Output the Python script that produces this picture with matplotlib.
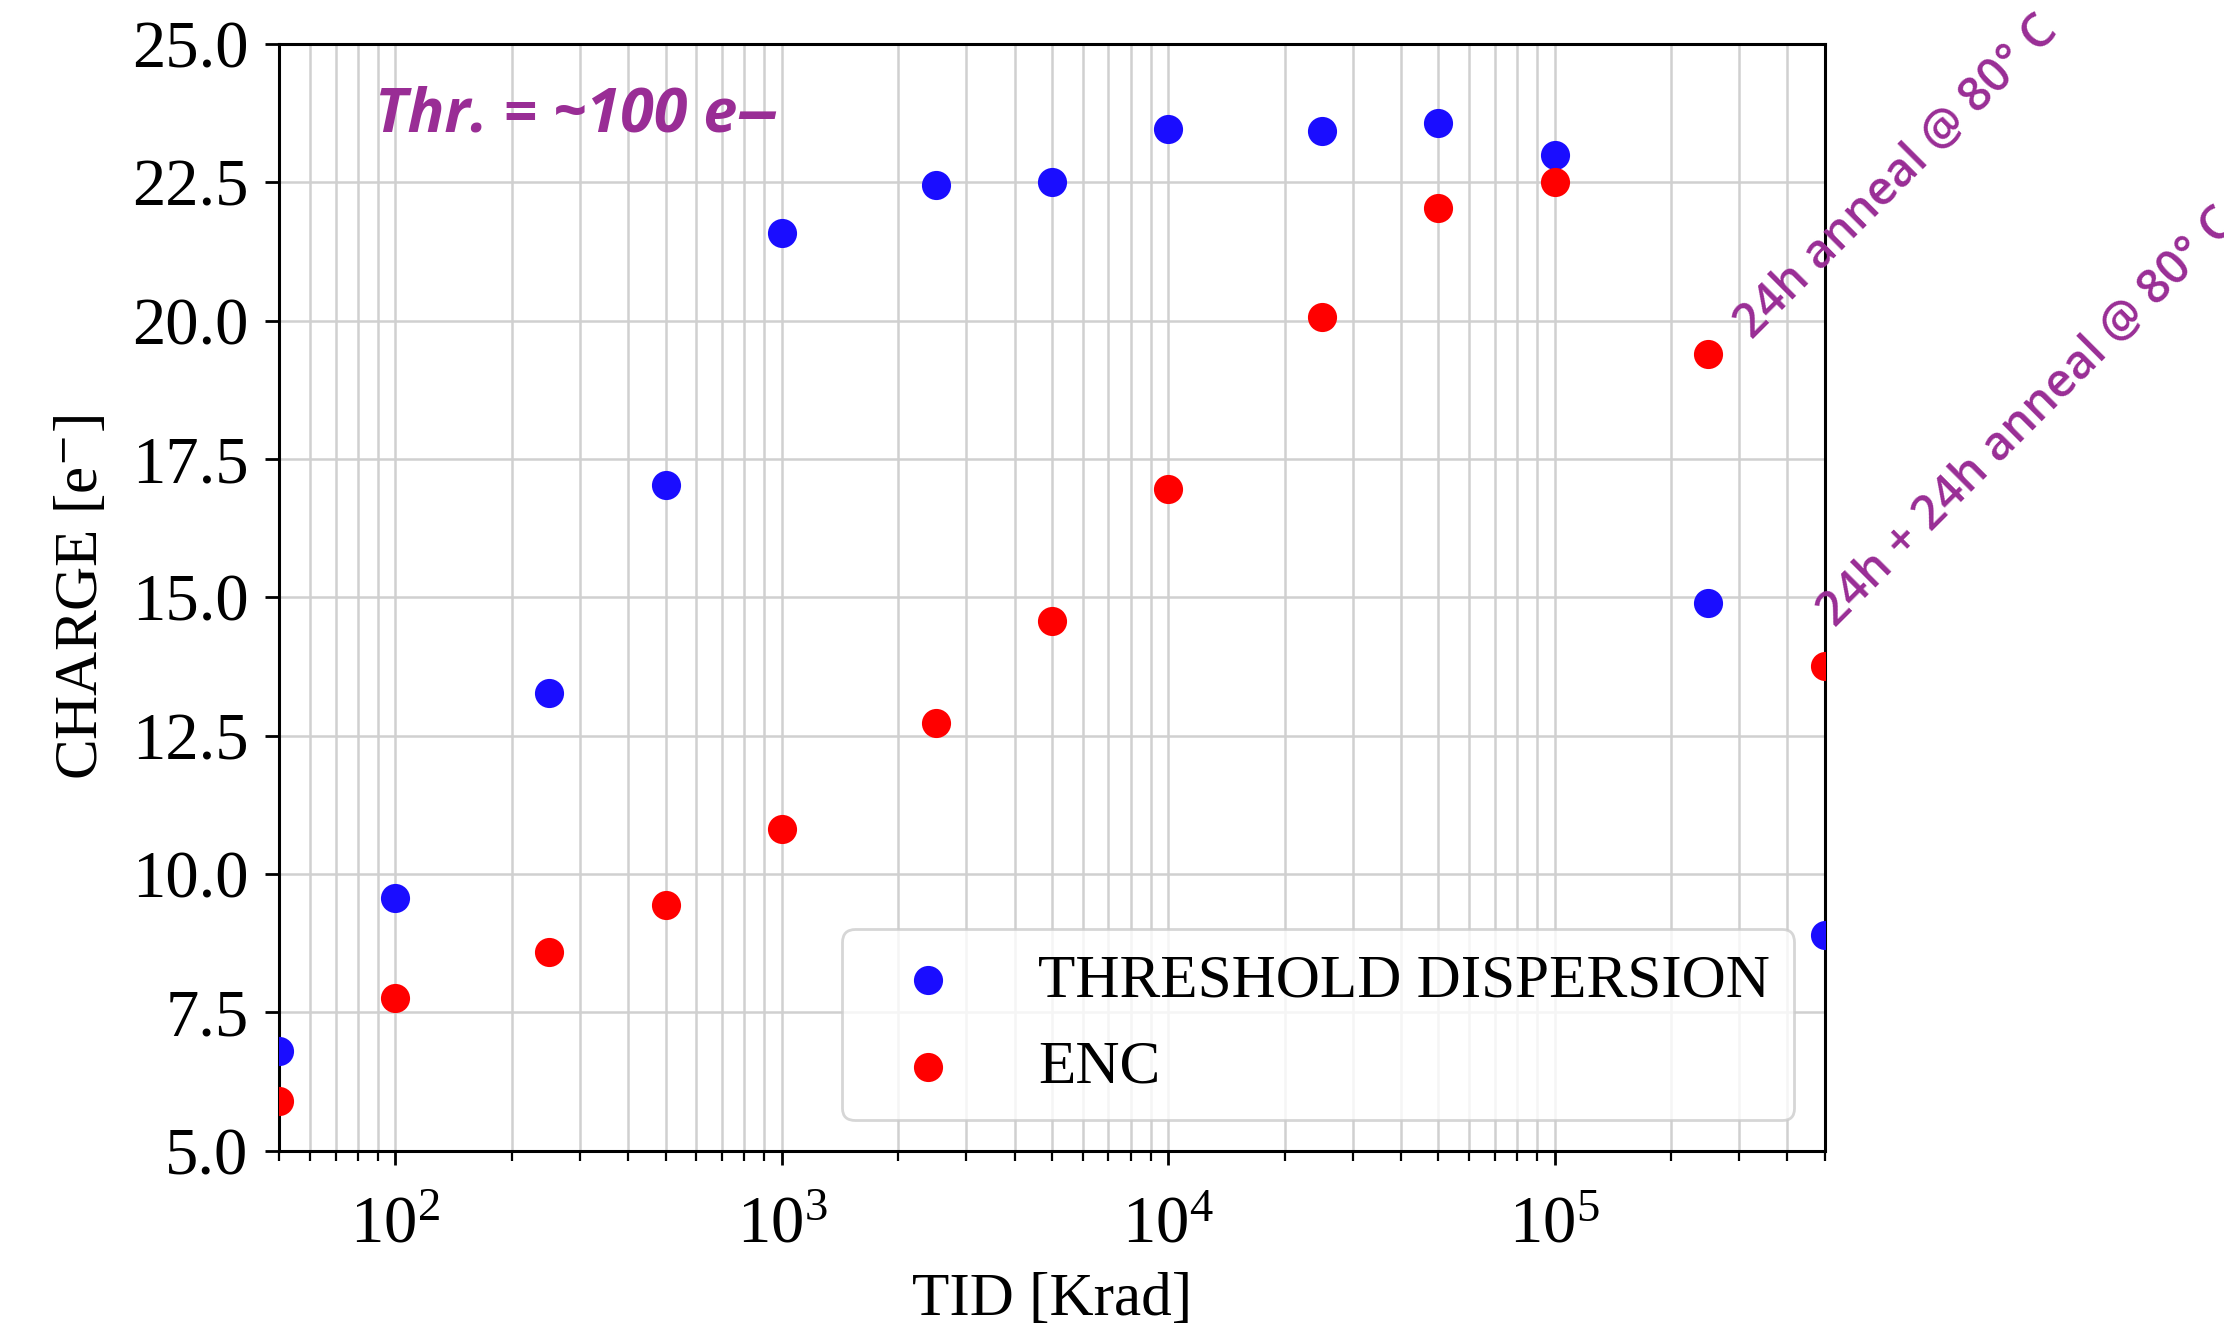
import matplotlib

matplotlib.use("Agg")
import matplotlib.pyplot as plt
import numpy as np

# TID doses [Krad] and measured charge [e-]
tid = [50, 100, 250, 500, 1000, 2500, 5000, 10000, 25000, 50000, 100000, 250000, 500000]
thr_dispersion = [6.8, 9.56, 13.27, 17.03, 21.58, 22.45, 22.5, 23.47, 23.42, 23.58, 23.0, 14.9, 8.9]
enc = [5.9, 7.77, 8.6, 9.44, 10.82, 12.73, 14.58, 16.95, 20.06, 22.04, 22.5, 19.4, 13.76]

plt.rcParams["font.family"] = ["Liberation Serif", "DejaVu Serif"]
plt.rcParams["mathtext.fontset"] = "stix"

purple = "#992D95"

fig = plt.figure(figsize=(11.12, 6.66), dpi=200)
ax = fig.add_axes([0.1255, 0.136, 0.695, 0.831])

ax.scatter(tid, thr_dispersion, s=90, color="#1a0dff", label="THRESHOLD DISPERSION", zorder=3)
ax.scatter(tid, enc, s=90, color="#ff0000", label="ENC", zorder=3)

ax.set_xscale("log")
ax.set_xlim(50, 5e5)
ax.set_ylim(5, 25)
ax.set_yticks(np.arange(5, 25.1, 2.5))

ax.grid(True, which="both", axis="x", color="#d0d0d0", linewidth=0.9)
ax.grid(True, which="major", axis="y", color="#d0d0d0", linewidth=0.9)
ax.set_axisbelow(True)

ax.tick_params(which="major", direction="out", length=5, width=1, labelsize=24, pad=6)
ax.tick_params(axis="x", which="major", pad=11)
ax.tick_params(which="minor", direction="out", length=3.5, width=0.8)
for sp in ax.spines.values():
    sp.set_linewidth(1.1)

ax.set_xlabel("TID [Krad]", fontsize=22, labelpad=6)
ax.set_ylabel("CHARGE [e$^{-}$]", fontsize=22, labelpad=8)

ax.legend(loc="lower right", fontsize=22)

# annotations (the long ones run off the right edge, as in the original)
ax.text(0.062, 0.921, "Thr. = ~100 e\u2012", transform=ax.transAxes, fontsize=22,
        family=["Open Sans", "DejaVu Sans"], style="italic", weight="bold",
        color=purple, va="baseline")
ax.text(3.4e5, 19.5, "24h anneal @ 80\u00b0 C", fontsize=17, family="Open Sans",
        weight="semibold", color=purple, rotation=45, rotation_mode="anchor",
        ha="left", va="bottom", clip_on=False)
ax.text(5.56e5, 14.3, "24h + 24h anneal @ 80\u00b0 C", fontsize=17, family="Open Sans",
        weight="semibold", color=purple, rotation=45, rotation_mode="anchor",
        ha="left", va="bottom", clip_on=False)

fig.savefig("out.png", dpi=200)
plt.close(fig)
